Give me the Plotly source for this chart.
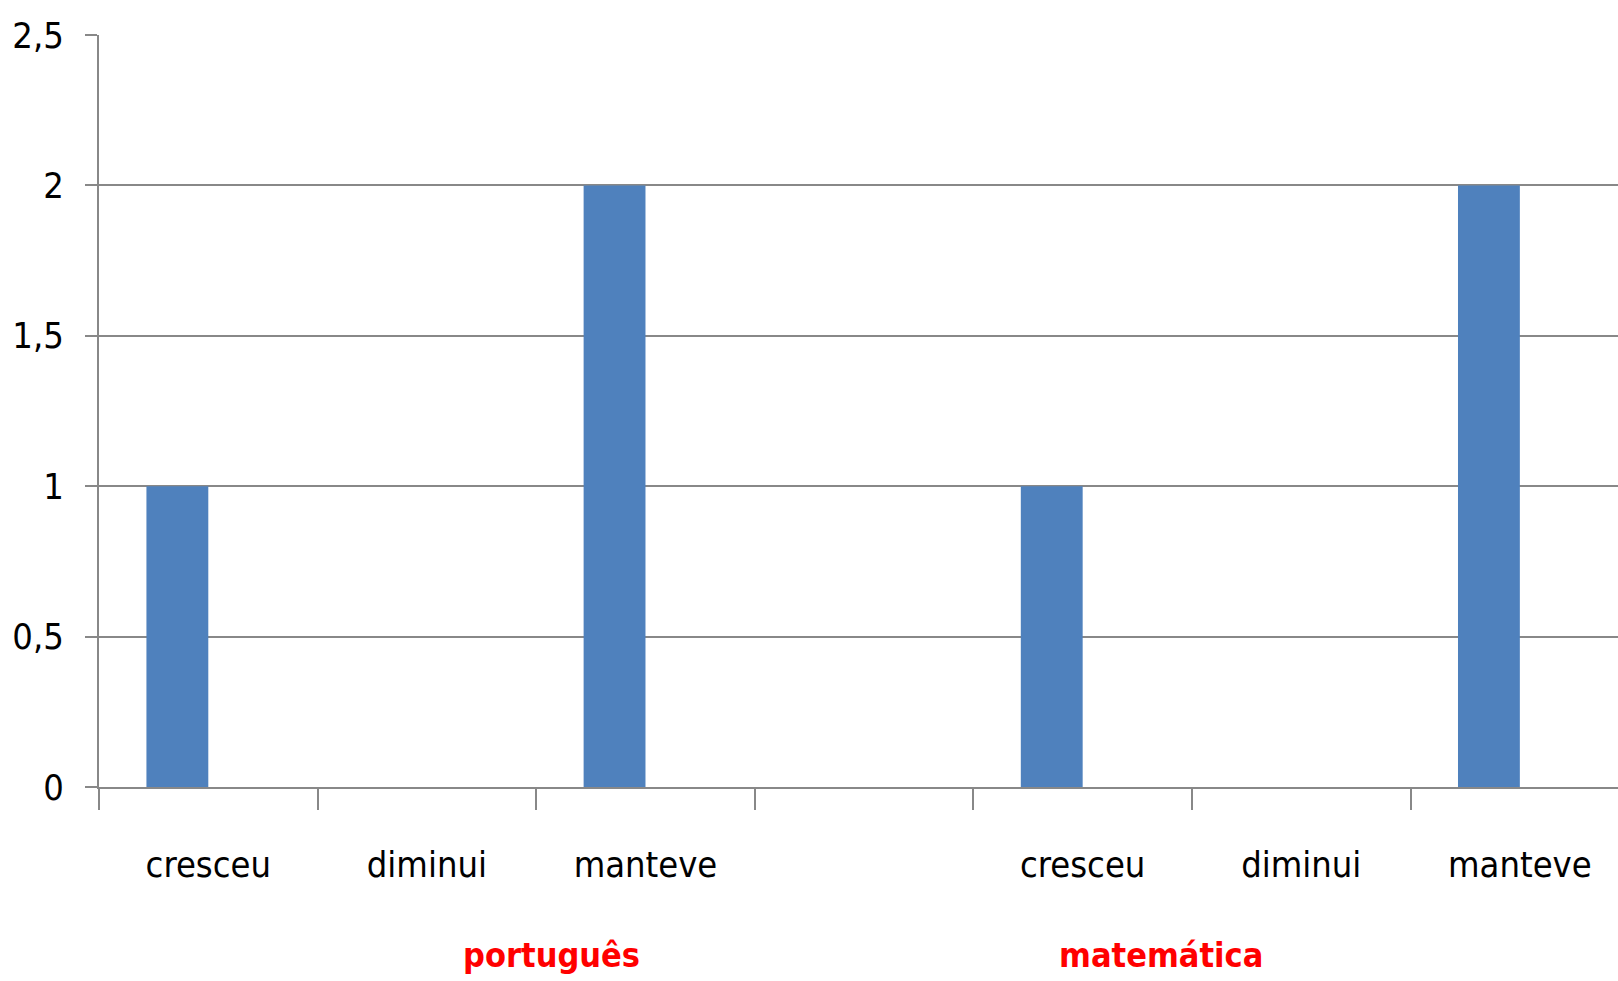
import plotly.graph_objects as go

# --- data ---
positions = [0, 1, 2, 4, 5, 6]
labels = ["cresceu", "diminui", "manteve", "cresceu", "diminui", "manteve"]
values = [1, 0, 2, 1, 0, 2]
groups = ["português", "matemática"]
y_ticks = [0, 0.5, 1, 1.5, 2, 2.5]

FONT = "DejaVu Sans Condensed, Liberation Sans Narrow, sans-serif"
GRID = "#888888"

fig = go.Figure()
fig.add_trace(go.Bar(
    x=positions, y=values,
    width=0.283, offset=-0.283,
    marker=dict(color="#4F81BD", line=dict(width=0)),
    showlegend=False, hoverinfo="x+y",
))

fig.update_layout(
    width=1618, height=981,
    margin=dict(l=99, r=0, t=35, b=194, autoexpand=False),
    paper_bgcolor="white", plot_bgcolor="white",
    separators=",.",
    font=dict(family=FONT, color="#000000"),
    xaxis=dict(
        range=[-0.5, 6.449], automargin=False,
        tickmode="array", tickvals=positions, ticktext=labels,
        ticks="", showgrid=False, zeroline=False,
        showline=True, linecolor=GRID, linewidth=2,
        tickfont=dict(family=FONT, size=36, color="#000000"),
        ticklabelstandoff=45,
        minor=dict(ticks="outside", ticklen=21, tickwidth=2, tickcolor=GRID,
                   tickmode="linear", tick0=-0.5, dtick=1, showgrid=False),
    ),
    yaxis=dict(
        range=[0, 2.5], tickmode="array", tickvals=y_ticks, automargin=False,
        showgrid=True, gridcolor=GRID, gridwidth=2,
        zeroline=False,
        showline=True, linecolor=GRID, linewidth=2,
        ticks="outside", ticklen=12, tickwidth=2, tickcolor=GRID,
        tickfont=dict(family=FONT, size=36, color="#000000"),
        ticklabelstandoff=14,
    ),
)

for gx, name in zip([0.298, 0.699], groups):
    fig.add_annotation(
        x=gx, y=-0.2234, xref="paper", yref="paper",
        text="<b>" + name + "</b>", showarrow=False,
        xanchor="center", yanchor="middle",
        font=dict(family=FONT, size=34, color="#FF0000"),
    )

fig.write_html(
    "out.html",
    config={"displayModeBar": False},
    post_script="document.body.style.margin='0';document.body.style.overflow='hidden';",
)
